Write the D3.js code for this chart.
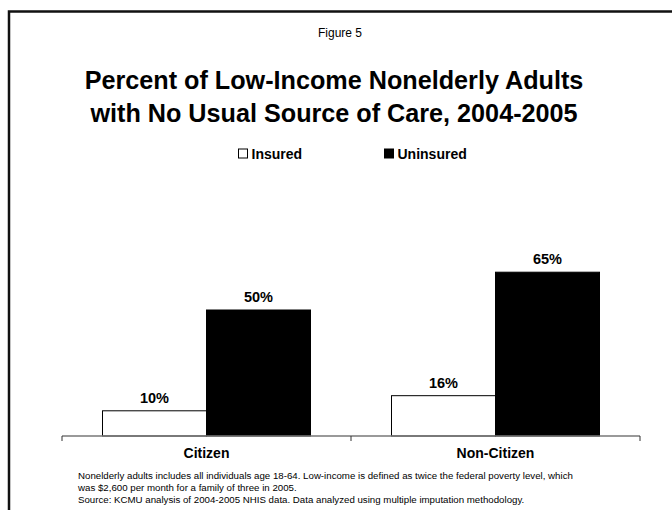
<!DOCTYPE html>
<html>
<head>
<meta charset="utf-8">
<script src="https://cdn.jsdelivr.net/npm/d3@7"></script>
<style>
  html, body { margin: 0; padding: 0; background: #fff; }
  svg { display: block; font-family: Arial, "Liberation Sans", sans-serif; }
</style>
</head>
<body>
<svg id="chart" width="672" height="510"></svg>
<script>
// Data
const categories = ["Citizen", "Non-Citizen"];
const seriesNames = ["Insured", "Uninsured"];
const insured = [10, 16];
const uninsured = [50, 65];
const seriesColors = ["#ffffff", "#000000"];
const footnotes = [
  "Nonelderly adults includes all individuals age 18-64. Low-income is defined as twice the federal poverty level, which",
  "was $2,600 per month for a family of three in 2005.",
  "Source: KCMU analysis of 2004-2005 NHIS data. Data analyzed using multiple imputation methodology."
];

const svg = d3.select("#chart");

// Slide frame (top and left edges)
svg.append("path")
  .attr("d", "M9,510 V11.5 H672")
  .attr("fill", "none")
  .attr("stroke", "#111")
  .attr("stroke-width", 2.5);

// Headings
svg.append("text")
  .attr("x", 340).attr("y", 37)
  .attr("text-anchor", "middle")
  .attr("font-size", 12)
  .text("Figure 5");

const titleLines = ["Percent of Low-Income Nonelderly Adults", "with No Usual Source of Care, 2004-2005"];
svg.selectAll("text.title").data(titleLines).join("text")
  .attr("class", "title")
  .attr("x", 334)
  .attr("y", (d, i) => 89 + i * 33)
  .attr("text-anchor", "middle")
  .attr("font-size", 25.2)
  .attr("font-weight", "bold")
  .text(d => d);

// Scales
const x0 = d3.scaleBand().domain(categories).range([62, 640]);
const x1 = d3.scaleBand().domain(seriesNames).range([0, 208]);
const y = d3.scaleLinear().domain([0, 100]).range([436, 184]);

const rows = categories.map((c, i) => ({
  category: c,
  values: [
    { series: seriesNames[0], value: insured[i], color: seriesColors[0] },
    { series: seriesNames[1], value: uninsured[i], color: seriesColors[1] }
  ]
}));

const groupOffset = (x0.bandwidth() - 208) / 2;

const groups = svg.selectAll("g.group").data(rows).join("g")
  .attr("class", "group")
  .attr("transform", d => `translate(${x0(d.category) + groupOffset},0)`);

groups.selectAll("rect").data(d => d.values).join("rect")
  .attr("x", d => x1(d.series))
  .attr("y", d => y(d.value))
  .attr("width", x1.bandwidth())
  .attr("height", d => y(0) - y(d.value))
  .attr("fill", d => d.color)
  .attr("stroke", "#000")
  .attr("stroke-width", 1);

groups.selectAll("text.val").data(d => d.values).join("text")
  .attr("class", "val")
  .attr("x", d => x1(d.series) + x1.bandwidth() / 2)
  .attr("y", d => y(d.value) - 8)
  .attr("text-anchor", "middle")
  .attr("font-size", 14.5)
  .attr("font-weight", "bold")
  .text(d => d.value + "%");

// Category axis
const axis = svg.append("g")
  .attr("transform", `translate(0,${y(0)})`)
  .call(d3.axisBottom(x0).tickSize(0).tickFormat(""));
axis.select(".domain").remove();
axis.append("line")
  .attr("x1", 62).attr("x2", 640).attr("y1", 0).attr("y2", 0)
  .attr("stroke", "#777").attr("stroke-width", 1.5);
const tickXs = [x0.range()[0], ...categories.slice(1).map(c => x0(c)), x0.range()[1]];
axis.selectAll("line.tk").data(tickXs).join("line")
  .attr("class", "tk")
  .attr("x1", d => d).attr("x2", d => d)
  .attr("y1", 0).attr("y2", 5)
  .attr("stroke", "#333").attr("stroke-width", 1);
axis.selectAll("text.cat").data(categories).join("text")
  .attr("class", "cat")
  .attr("x", d => x0(d) + x0.bandwidth() / 2)
  .attr("y", 22)
  .attr("text-anchor", "middle")
  .attr("font-size", 14)
  .attr("font-weight", "bold")
  .attr("fill", "#000")
  .text(d => d);

// Legend
const legendX = [238, 384];
const legend = svg.selectAll("g.legend").data(seriesNames).join("g")
  .attr("class", "legend")
  .attr("transform", (d, i) => `translate(${legendX[i]},148.5)`);
legend.append("rect")
  .attr("x", 0.5).attr("y", 0.5)
  .attr("width", 9).attr("height", 9)
  .attr("fill", (d, i) => seriesColors[i])
  .attr("stroke", "#000");
legend.append("text")
  .attr("x", 13.5).attr("y", 10.5)
  .attr("font-size", 14)
  .attr("font-weight", "bold")
  .text(d => d);

// Footnotes
svg.selectAll("text.note").data(footnotes).join("text")
  .attr("class", "note")
  .attr("x", 78)
  .attr("y", (d, i) => 479 + i * 12)
  .attr("font-size", 9.7)
  .text(d => d);
</script>
</body>
</html>
